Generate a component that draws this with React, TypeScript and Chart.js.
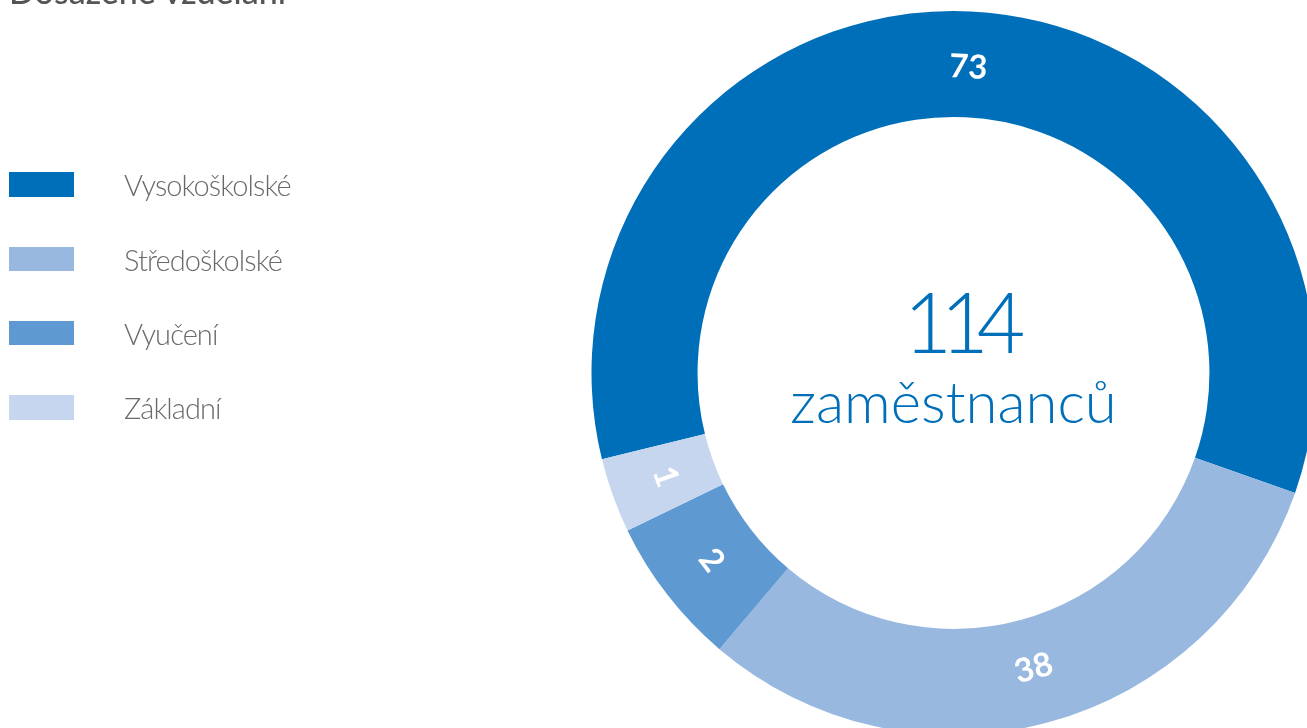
import React, { useEffect, useRef } from "react";
import { Chart, registerables } from "chart.js";

Chart.register(...registerables);

// ---- data ----
const title = "Dosažené vzdělání";
const categories = ["Vysokoškolské", "Středoškolské", "Vyučení", "Základní"];
const employeeCounts = [73, 38, 2, 1];
// arc weights as drawn in the picture (small groups are shown enlarged)
const arcSizes = [73, 38, 8.2, 4.1];
const colors = ["#006FBA", "#98B8E0", "#5E99D1", "#C6D6EF"];
const totalLabel = "114";
const totalUnit = "zaměstnanců";

const FONT = "Lato, 'Open Sans', 'DejaVu Sans', sans-serif";

const arcLabelPlugin = {
  id: "arcLabels",
  afterDatasetsDraw(chart: any) {
    const ctx = chart.ctx as CanvasRenderingContext2D;
    const meta = chart.getDatasetMeta(0);
    meta.data.forEach((el: any, i: number) => {
      const p = el.getProps(
        ["x", "y", "startAngle", "endAngle", "innerRadius", "outerRadius"],
        true
      );
      const mid = (p.startAngle + p.endAngle) / 2;
      const r = (p.innerRadius + p.outerRadius) / 2 - 3;
      const px = p.x + Math.cos(mid) * r;
      const py = p.y + Math.sin(mid) * r;
      let rot = mid + Math.PI / 2;
      const TAU = Math.PI * 2;
      const n = ((rot % TAU) + TAU) % TAU;
      if (n > Math.PI / 2 && n < (3 * Math.PI) / 2) rot += Math.PI;
      ctx.save();
      ctx.translate(px, py);
      ctx.rotate(rot);
      ctx.fillStyle = "#ffffff";
      ctx.font = `700 33px ${FONT}`;
      ctx.textAlign = "center";
      ctx.textBaseline = "middle";
      ctx.fillText(String(employeeCounts[i]), 0, 0);
      ctx.restore();
    });
  },
};

export default function App() {
  const canvasRef = useRef<HTMLCanvasElement | null>(null);

  useEffect(() => {
    if (!canvasRef.current) return;
    const chart = new Chart(canvasRef.current, {
      type: "doughnut",
      data: {
        labels: categories,
        datasets: [
          {
            data: arcSizes,
            backgroundColor: colors,
            borderWidth: 0,
            clip: false,
          } as any,
        ],
      },
      options: {
        animation: false,
        responsive: false,
        devicePixelRatio: 1,
        rotation: 256.2,
        radius: 362,
        cutout: "70.7%",
        layout: { padding: { left: 600, right: 0, top: 18, bottom: 0 } },
        plugins: {
          legend: { display: false },
          tooltip: { enabled: false },
          title: { display: false },
        },
        events: [],
      } as any,
      plugins: [arcLabelPlugin],
    });
    return () => chart.destroy();
  }, []);

  const rowGap = 74.3;

  return (
    <div
      style={{
        position: "fixed",
        left: 0,
        top: 0,
        width: 1307,
        height: 728,
        overflow: "hidden",
        background: "#ffffff",
        fontFamily: FONT,
      }}
    >
      <canvas
        ref={canvasRef}
        width={1307}
        height={728}
        style={{ position: "absolute", left: 0, top: 0, width: 1307, height: 728 }}
      />
      <div
        style={{
          position: "absolute",
          left: 9,
          top: 4 - 0.887 * 34,
          fontSize: 34,
          lineHeight: 1,
          fontWeight: 500,
          color: "#555555",
          whiteSpace: "nowrap",
        }}
      >
        {title}
      </div>
      {categories.map((c, i) => (
        <React.Fragment key={c}>
          <div
            style={{
              position: "absolute",
              left: 9,
              top: 172.3 + i * rowGap,
              width: 65,
              height: 24.5,
              background: colors[i],
            }}
          />
          <div
            style={{
              position: "absolute",
              left: 124,
              top: 170.3 + i * rowGap,
              fontSize: 29,
              lineHeight: 1,
              fontWeight: 300,
              color: "#6a6a6a",
              letterSpacing: -0.9,
              whiteSpace: "nowrap",
            }}
          >
            {c}
          </div>
        </React.Fragment>
      ))}
      <div
        style={{
          position: "absolute",
          left: 753.5,
          width: 410,
          top: 353.3 - 0.887 * 84,
          fontSize: 84,
          lineHeight: 1,
          fontWeight: 300,
          color: "#006FBA",
          textAlign: "center",
          letterSpacing: -12,
          whiteSpace: "nowrap",
        }}
      >
        {totalLabel}
      </div>
      <div
        style={{
          position: "absolute",
          left: 753.5,
          width: 400,
          top: 423.3 - 0.887 * 58,
          fontSize: 58,
          lineHeight: 1,
          fontWeight: 300,
          color: "#006FBA",
          textAlign: "center",
          whiteSpace: "nowrap",
        }}
      >
        {totalUnit}
      </div>
    </div>
  );
}
